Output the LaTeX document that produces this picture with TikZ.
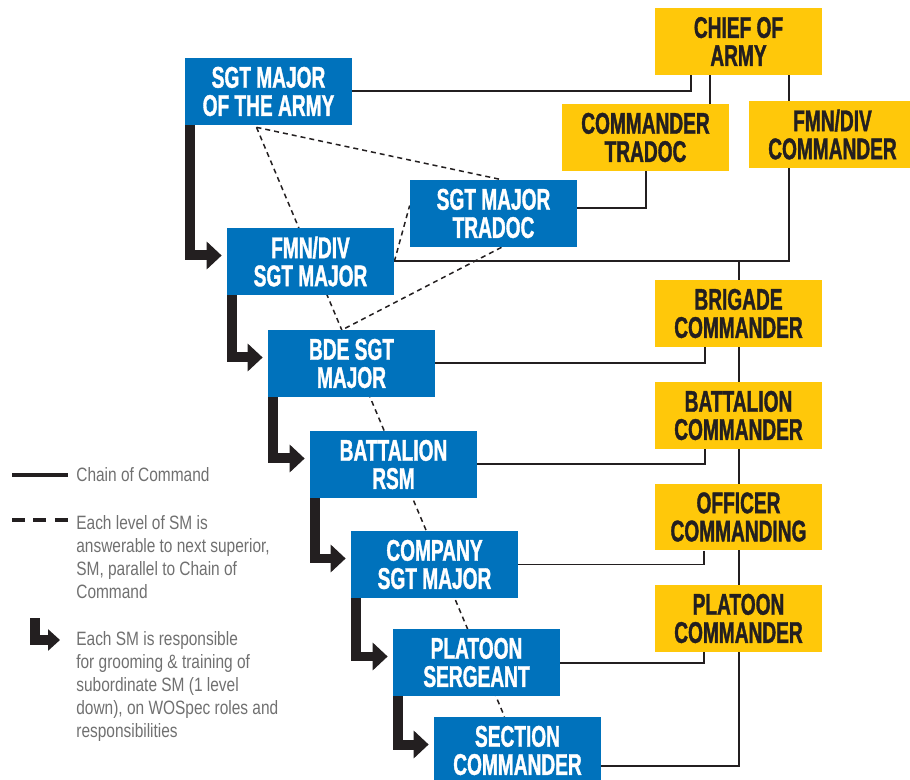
\documentclass[tikz,border=0pt]{standalone}
\usepackage{fontspec}
\usetikzlibrary{arrows.meta,calc,backgrounds}
\newfontfamily\boxfont{Liberation Sans}[FakeStretch=0.64,BoldFeatures={FakeBold=1.2}]
\newfontfamily\legendfont{Liberation Sans}[FakeStretch=0.8]
\definecolor{armyblue}{RGB}{0,114,188}
\definecolor{armyyellow}{RGB}{255,200,10}
\definecolor{inkdark}{RGB}{35,31,32}
\definecolor{legendgray}{RGB}{112,112,112}
\tikzset{
  smbox/.style={fill=armyblue, text=white, minimum width=3.34cm, minimum height=1.34cm,
    inner sep=0pt, align=center, font=\boxfont\bfseries\fontsize{17}{16}\selectfont},
  cdrbox/.style={smbox, fill=armyyellow, text=inkdark},
  chain/.style={draw=inkdark, line width=0.04cm},
  answer/.style={draw=inkdark, line width=0.03cm, dash pattern=on 0.1cm off 0.08cm},
  groom/.style={draw=inkdark, line width=0.2cm, -{Triangle[length=0.3cm,width=0.54cm]}},
  legend/.style={text=legendgray, align=left, inner sep=0pt,
    font=\legendfont\fontsize{11}{13.1}\selectfont},
}
\begin{document}
\begin{tikzpicture}[x=0.02cm,y=-0.02cm]
  \useasboundingbox (0,0) rectangle (910,780);
  % Sergeant majors
  \node[smbox] (smarmy)   at (268.5,91.5)  {SGT MAJOR\\OF THE ARMY};
  \node[smbox] (smtradoc) at (493.5,213.5) {SGT MAJOR\\TRADOC};
  \node[smbox] (fmnsm)    at (310.5,261.5) {FMN/DIV\\SGT MAJOR};
  \node[smbox] (bdesm)    at (351.5,363.5) {BDE SGT\\MAJOR};
  \node[smbox] (bnrsm)    at (393.5,464.5) {BATTALION\\RSM};
  \node[smbox] (coysm)    at (434.5,564.5) {COMPANY\\SGT MAJOR};
  \node[smbox] (plsgt)    at (476.5,662.5) {PLATOON\\SERGEANT};
  \node[smbox] (section)  at (517.5,750.5) {SECTION\\COMMANDER};
  % Commanders
  \node[cdrbox] (chief)     at (738.5,41.5)  {CHIEF OF\\ARMY};
  \node[cdrbox] (cdrtradoc) at (645.5,137.5) {COMMANDER\\TRADOC};
  \node[cdrbox] (fmncdr)    at (832.5,134.5) {FMN/DIV\\COMMANDER};
  \node[cdrbox] (bdecdr)    at (738.5,313.5) {BRIGADE\\COMMANDER};
  \node[cdrbox] (bncdr)     at (738.5,415.5) {BATTALION\\COMMANDER};
  \node[cdrbox] (occdr)     at (738.5,517)   {OFFICER\\COMMANDING};
  \node[cdrbox] (plcdr)     at (738.5,618.5) {PLATOON\\COMMANDER};
  % Legend
  \node[legend, anchor=base west] (lgchain) at (76,482) {Chain of Command};
  \node[legend, anchor=north west] (lganswer) at (76,515)
    {Each level of SM is\\answerable to next superior,\\SM, parallel to Chain of\\Command};
  \node[legend, anchor=north west] (lggroom) at (76,631)
    {Each SM is responsible\\for grooming \& training of\\subordinate SM (1 level\\down), on WOSpec roles and\\responsibilities};

  \begin{pgfonlayer}{background}
    % Chain of command
    \draw[chain] (smarmy.east) -| ($(chief.south)+(-48,0)$);
    \draw[chain] ($(cdrtradoc.north)+(64,0)$) coordinate (ct) -- (ct |- chief.south);
    \draw[chain] ($(fmncdr.north)+(-44,0)$) coordinate (cf) -- (cf |- chief.south);
    \draw[chain] (cdrtradoc.south) |- ($(smtradoc.east)+(0,-5)$);
    \draw[chain] ($(fmncdr.south)+(-44,0)$) |- (fmnsm.east);
    \draw[chain] (fmnsm.east -| bdecdr.center) |- ($(section.east)+(0,15)$);
    \draw[chain] ($(bdecdr.south)+(-34,0)$) |- (bdesm.east);
    \draw[chain] ($(bncdr.south)+(-34,0)$) |- (bnrsm.east);
    \draw[chain] ($(occdr.south)+(-35,0)$) |- (coysm.east);
    \draw[chain] ($(plcdr.south)+(-35,0)$) |- (plsgt.east);
    % SM answerable to next superior
    \draw[answer] ($(smarmy.south)+(-12,2)$) -- ($(section.north)+(-13,0)$);
    \draw[answer] ($(smarmy.south)+(-12,2)$) -- ($(smtradoc.north)+(8,0)$);
    \draw[answer] ($(smtradoc.south)+(8,0)$) -- ($(bdesm.north)+(-9,0)$);
    \draw[answer] (fmnsm.east) -- ($(smtradoc.west)+(0,-8)$);
    % Grooming arrows
    \foreach \a/\b in {smarmy/fmnsm, fmnsm/bdesm, bdesm/bnrsm, bnrsm/coysm, coysm/plsgt, plsgt/section}
      \draw[groom] ($(\a.south west)+(5,0)$) |- ($(\b.west)+(-5,-6)$);
    % Legend samples
    \draw[chain, line width=0.07cm] ($(lgchain.base west)+(-64,-7)$) -- ++(56,0);
    \draw[chain, line width=0.07cm, dash pattern=on 0.26cm off 0.17cm]
      ($(lganswer.north west)+(-64,5)$) -- ++(56,0);
    \draw[groom, -{Triangle[length=0.24cm,width=0.42cm]}]
      ($(lggroom.north west)+(-41,-13)$) |- ($(lggroom.north west)+(-16,9)$);
  \end{pgfonlayer}
\end{tikzpicture}
\end{document}
